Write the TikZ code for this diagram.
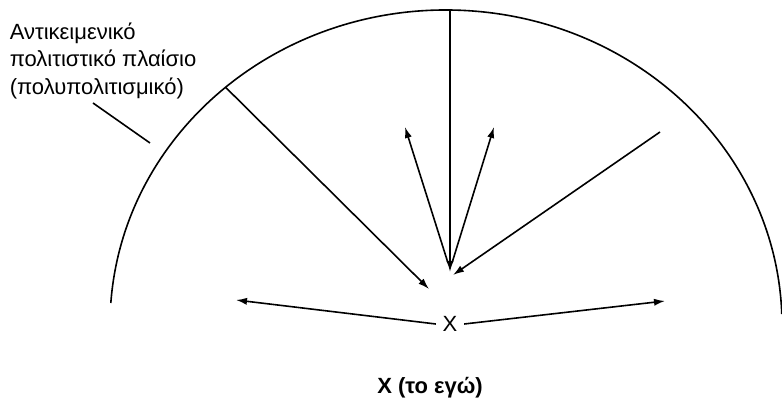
\documentclass[tikz,border=0pt]{standalone}
\usepackage{fontspec}
\setmainfont{Liberation Sans}
\usetikzlibrary{arrows.meta, positioning}

\begin{document}
\begin{tikzpicture}[
    x=0.5pt, y=-0.5pt,
    line width=0.8pt,
    ray/.style={-{Latex[length=5.5pt, width=3.6pt]}},
    caption/.style={font=\fontsize{11}{13.8}\selectfont, align=left, inner sep=0pt},
    self/.style={font=\fontsize{11}{12}\selectfont, inner sep=3pt}
]
\useasboundingbox (0,0) rectangle (782,411);

% Context arc
\coordinate (centre) at (446,325);
\draw (centre) ++(184:336 and 315) arc[start angle=184, end angle=358, x radius=336, y radius=315];
\path (centre) ++(229:336 and 315) coordinate (arc left);
\coordinate (arc top) at (450,10);

% Labels
\node[caption, anchor=north west] (context) at (9,22) {Αντικειμενικό\\πολιτιστικό πλαίσιο\\(πολυπολιτισμικό)};
\node[self] (X) at (450,324) {X};
\node[self, font=\fontsize{11}{12}\selectfont\bfseries] (ego) at (430,388) {X (το εγώ)};

% Free ends
\coordinate (tick a) at (93,103);
\coordinate (tick b) at (150,143);
\coordinate (right start) at (660,132);
\coordinate (hit left) at (429,289);
\coordinate (hit top) at (450,272);
\coordinate (hit right) at (453,275);
\coordinate (out left a) at (448,263);
\coordinate (out left b) at (405,127);
\coordinate (out right a) at (452,263);
\coordinate (out right b) at (494,127);
\coordinate (far left) at (236,300);
\coordinate (far right) at (665,301);

% Rays
\draw (tick a) -- (tick b);
\draw[ray] (arc left) -- (hit left);
\draw[ray] (arc top) -- (hit top);
\draw[ray] (right start) -- (hit right);
\draw[ray] (out left a) -- (out left b);
\draw[ray] (out right a) -- (out right b);
\draw[ray] (X.west) -- (far left);
\draw[ray] (X.east) -- (far right);

\end{tikzpicture}
\end{document}
